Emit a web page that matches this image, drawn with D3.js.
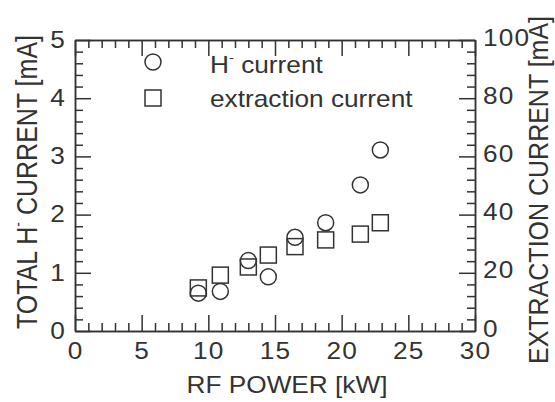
<!DOCTYPE html>
<html>
<head>
<meta charset="utf-8">
<script src="https://cdn.jsdelivr.net/npm/d3@7"></script>
<style>
  body { margin: 0; background: #fff; }
  text { font-family: "Liberation Sans", Arial, Helvetica, sans-serif; fill: #333; }
</style>
</head>
<body>
<div id="chart"></div>
<script>
// data
const rfPower = [9.25, 10.9, 13.0, 14.5, 16.5, 18.8, 21.4, 22.9];      // kW
const hMinusCurrent = [0.65, 0.68, 1.21, 0.93, 1.61, 1.86, 2.51, 3.11]; // mA (left axis)
const extractionCurrent = [14.8, 19.2, 22, 26.1, 29, 31.3, 33.3, 37.2]; // mA (right axis)
const xTicks = [0, 5, 10, 15, 20, 25, 30];
const yTicks = [0, 1, 2, 3, 4, 5];
const y2Ticks = [0, 20, 40, 60, 80, 100];

const svgWidth = 555, svgHeight = 402;
const margin = { top: 40, right: 80, bottom: 71, left: 75 };
const width = svgWidth - margin.left - margin.right;
const height = svgHeight - margin.top - margin.bottom;
const ink = '#333';
const sx = 1.14; // the type in the picture is a little wide

const svg = d3.select('#chart').append('svg')
    .attr('width', svgWidth)
    .attr('height', svgHeight);
const g = svg.append('g').attr('transform', `translate(${margin.left},${margin.top})`);

const x = d3.scaleLinear().domain([0, 30]).range([0, width]);
const y = d3.scaleLinear().domain([0, 5]).range([height, 0]);
const y2 = d3.scaleLinear().domain([0, 100]).range([height, 0]);

const minorX = d3.range(0, 31, 1).filter(v => v % 5 !== 0);
const minorY = d3.range(0, 5.01, 0.2).map(v => +v.toFixed(1)).filter(v => Math.abs(v - Math.round(v)) > 0.01);
const minorY2 = minorY.map(v => v * 20);

function styleAxis(sel) {
    sel.selectAll('path, line').attr('stroke', ink).attr('stroke-width', 1.5);
    sel.selectAll('text').style('font-size', '23px').attr('fill', ink);
}

// minor ticks
g.append('g').attr('transform', `translate(0,${height})`)
    .call(d3.axisBottom(x).tickValues(minorX).tickSize(-8).tickSizeOuter(0).tickFormat('')).call(styleAxis);
g.append('g')
    .call(d3.axisTop(x).tickValues(minorX).tickSize(-8).tickSizeOuter(0).tickFormat('')).call(styleAxis);
g.append('g')
    .call(d3.axisLeft(y).tickValues(minorY).tickSize(-8).tickSizeOuter(0).tickFormat('')).call(styleAxis);
g.append('g').attr('transform', `translate(${width},0)`)
    .call(d3.axisRight(y2).tickValues(minorY2).tickSize(-8).tickSizeOuter(0).tickFormat('')).call(styleAxis);

// major ticks and labels
const xAxis = g.append('g').attr('transform', `translate(0,${height})`)
    .call(d3.axisBottom(x).tickValues(xTicks).tickSize(-16).tickSizeOuter(0).tickPadding(12).tickFormat(d3.format('d')))
    .call(styleAxis);
xAxis.selectAll('text').attr('transform', `scale(${sx},1)`).attr('letter-spacing', '1px');

g.append('g')
    .call(d3.axisTop(x).tickValues(xTicks).tickSize(-16).tickSizeOuter(0).tickFormat(''))
    .call(styleAxis);

const yAxis = g.append('g')
    .call(d3.axisLeft(y).tickValues(yTicks).tickSize(-16).tickSizeOuter(0).tickPadding(9).tickFormat(d3.format('d')))
    .call(styleAxis);
yAxis.selectAll('text').attr('transform', `scale(${sx},1)`);

const y2Axis = g.append('g').attr('transform', `translate(${width},0)`)
    .call(d3.axisRight(y2).tickValues(y2Ticks).tickSize(-16).tickSizeOuter(0).tickPadding(7).tickFormat(d3.format('d')))
    .call(styleAxis);
y2Axis.selectAll('text').attr('transform', `scale(${sx},1)`).attr('letter-spacing', '1px').attr('dy', '0.22em');

// markers
const pts = rfPower.map((p, i) => ({ p, h: hMinusCurrent[i], e: extractionCurrent[i] }));
const r = 8;
g.selectAll('.sq').data(pts).enter().append('rect')
    .attr('x', d => x(d.p) - r)
    .attr('y', d => y2(d.e) - r)
    .attr('width', 2 * r)
    .attr('height', 2 * r)
    .attr('fill', 'none')
    .attr('stroke', ink)
    .attr('stroke-width', 1.5);
g.selectAll('.ci').data(pts).enter().append('circle')
    .attr('cx', d => x(d.p))
    .attr('cy', d => y(d.h))
    .attr('r', r)
    .attr('fill', 'none')
    .attr('stroke', ink)
    .attr('stroke-width', 1.5);

// legend
svg.append('circle').attr('cx', 153).attr('cy', 62).attr('r', r)
    .attr('fill', 'none').attr('stroke', ink).attr('stroke-width', 1.5);
svg.append('rect').attr('x', 153 - r).attr('y', 98 - r).attr('width', 2 * r).attr('height', 2 * r)
    .attr('fill', 'none').attr('stroke', ink).attr('stroke-width', 1.5);

const leg1 = svg.append('text').attr('transform', `translate(210,73) scale(${sx},1)`).style('font-size', '23px');
leg1.append('tspan').text('H');
leg1.append('tspan').attr('dy', -11).style('font-size', '13px').text('-');
leg1.append('tspan').attr('dy', 11).text(' current');
svg.append('text').attr('transform', `translate(210,107) scale(${sx},1)`).style('font-size', '23px')
    .text('extraction current');

// axis titles
svg.append('text')
    .attr('transform', `translate(${margin.left + width / 2 + 12},393) scale(${sx},1)`)
    .attr('text-anchor', 'middle')
    .style('font-size', '23px')
    .text('RF POWER [kW]');

const yl = svg.append('text')
    .attr('transform', `translate(37,182) rotate(-90) scale(1,1.15)`)
    .attr('text-anchor', 'middle')
    .style('font-size', '25px');
yl.append('tspan').text('TOTAL H');
yl.append('tspan').attr('dy', -12).style('font-size', '14px').text('-');
yl.append('tspan').attr('dy', 12).text(' CURRENT [mA]');

svg.append('text')
    .attr('transform', `translate(548,190) rotate(-90) scale(1,1.1)`)
    .attr('text-anchor', 'middle')
    .style('font-size', '25px')
    .text('EXTRACTION CURRENT [mA]');
</script>
</body>
</html>
